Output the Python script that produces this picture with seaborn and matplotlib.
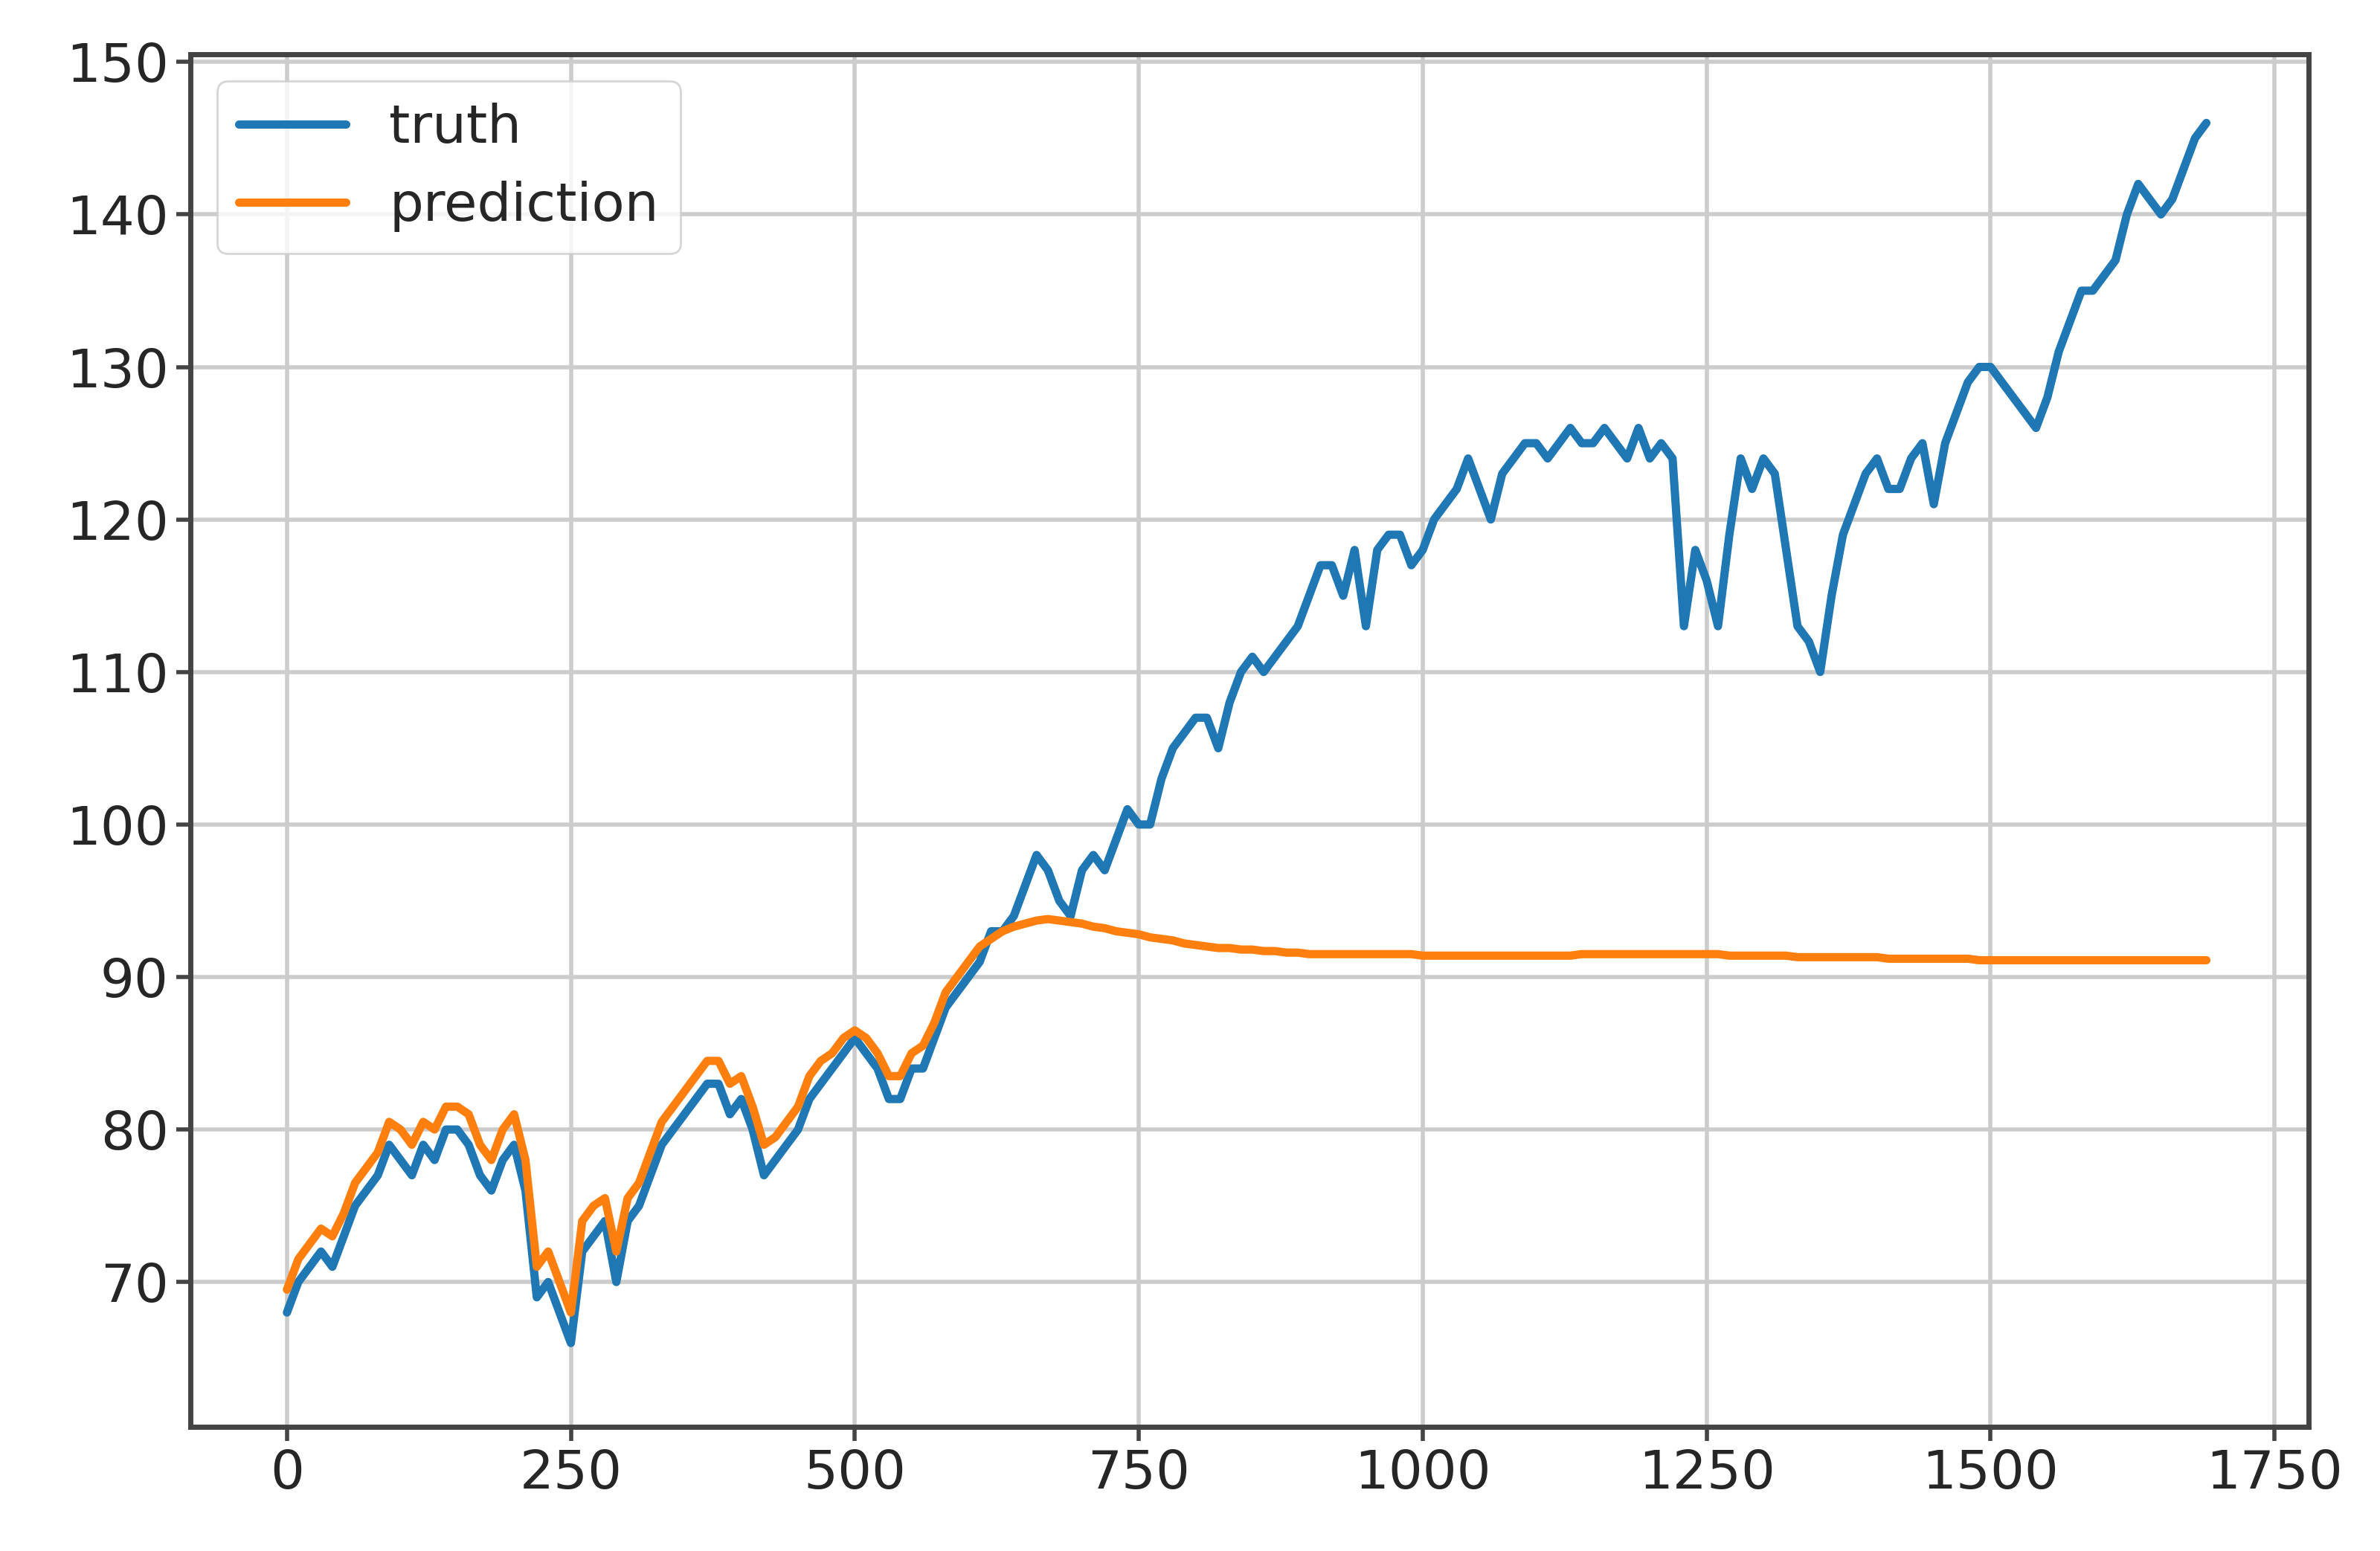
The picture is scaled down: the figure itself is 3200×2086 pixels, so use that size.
import matplotlib
matplotlib.use("Agg")
import matplotlib.pyplot as plt
import seaborn as sns
import pandas as pd

# ---------------------------
# DATA (read off the chart, sampled every 10 steps)
# ---------------------------
step = 10
truth = [68, 70, 71, 72, 71, 73, 75, 76, 77, 79, 78, 77, 79, 78, 80, 80, 79, 77, 76, 78,
         79, 76, 69, 70, 68, 66, 72, 73, 74, 70, 74, 75, 77, 79, 80, 81, 82, 83, 83, 81,
         82, 80, 77, 78, 79, 80, 82, 83, 84, 85, 86, 85, 84, 82, 82, 84, 84, 86, 88, 89,
         90, 91, 93, 93, 94, 96, 98, 97, 95, 94, 97, 98, 97, 99, 101, 100, 100, 103, 105, 106,
         107, 107, 105, 108, 110, 111, 110, 111, 112, 113, 115, 117, 117, 115, 118, 113, 118, 119, 119, 117,
         118, 120, 121, 122, 124, 122, 120, 123, 124, 125, 125, 124, 125, 126, 125, 125, 126, 125, 124, 126,
         124, 125, 124, 113, 118, 116, 113, 119, 124, 122, 124, 123, 118, 113, 112, 110, 115, 119, 121, 123,
         124, 122, 122, 124, 125, 121, 125, 127, 129, 130, 130, 129, 128, 127, 126, 128, 131, 133, 135, 135,
         136, 137, 140, 142, 141, 140, 141, 143, 145, 146]
prediction = [69.5, 71.5, 72.5, 73.5, 73, 74.5, 76.5, 77.5, 78.5, 80.5, 80, 79, 80.5, 80, 81.5, 81.5, 81, 79, 78, 80,
              81, 78, 71, 72, 70, 68, 74, 75, 75.5, 72, 75.5, 76.5, 78.5, 80.5, 81.5, 82.5, 83.5, 84.5, 84.5, 83,
              83.5, 81.5, 79, 79.5, 80.5, 81.5, 83.5, 84.5, 85, 86, 86.5, 86, 85, 83.5, 83.5, 85, 85.5, 87, 89, 90,
              91, 92, 92.5, 93, 93.3, 93.5, 93.7, 93.8, 93.7, 93.6, 93.5, 93.3, 93.2, 93.0, 92.9, 92.8, 92.6, 92.5, 92.4, 92.2,
              92.1, 92.0, 91.9, 91.9, 91.8, 91.8, 91.7, 91.7, 91.6, 91.6, 91.5, 91.5, 91.5, 91.5, 91.5, 91.5, 91.5, 91.5, 91.5, 91.5,
              91.4, 91.4, 91.4, 91.4, 91.4, 91.4, 91.4, 91.4, 91.4, 91.4, 91.4, 91.4, 91.4, 91.4, 91.5, 91.5, 91.5, 91.5, 91.5, 91.5,
              91.5, 91.5, 91.5, 91.5, 91.5, 91.5, 91.5, 91.4, 91.4, 91.4, 91.4, 91.4, 91.4, 91.3, 91.3, 91.3, 91.3, 91.3, 91.3, 91.3,
              91.3, 91.2, 91.2, 91.2, 91.2, 91.2, 91.2, 91.2, 91.2, 91.1, 91.1, 91.1, 91.1, 91.1, 91.1, 91.1, 91.1, 91.1, 91.1, 91.1,
              91.1, 91.1, 91.1, 91.1, 91.1, 91.1, 91.1, 91.1, 91.1, 91.1]

df = pd.DataFrame({
    "t": [i * step for i in range(len(truth))],
    "truth": truth,
    "prediction": prediction,
})

# ---------------------------
# VISUALIZATION
# ---------------------------
sns.set_style("whitegrid", {"axes.edgecolor": "#444444", "grid.color": "#cccccc",
                            "xtick.bottom": True, "ytick.left": True})
plt.rcParams["font.family"] = ["DejaVu Sans"]

fig, ax = plt.subplots(figsize=(16, 10.43), dpi=200)
sns.lineplot(data=df, x="t", y="truth", color="#1f77b4", lw=4, label="truth", ax=ax)
sns.lineplot(data=df, x="t", y="prediction", color="#ff7f0e", lw=4, label="prediction", ax=ax)

ax.set_xlim(-85, 1780)
ax.set_ylim(60.5, 150.5)
ax.set_xticks([0, 250, 500, 750, 1000, 1250, 1500, 1750])
ax.set_yticks(range(70, 151, 10))
ax.set_xlabel("")
ax.set_ylabel("")
ax.tick_params(labelsize=26, length=7, width=2, color="#444444")
for s in ax.spines.values():
    s.set_linewidth(2.5)
ax.grid(True, lw=2)
ax.legend(loc="upper left", fontsize=26, frameon=True)

plt.subplots_adjust(left=0.08, right=0.97, top=0.965, bottom=0.08)
plt.savefig("out.png")
